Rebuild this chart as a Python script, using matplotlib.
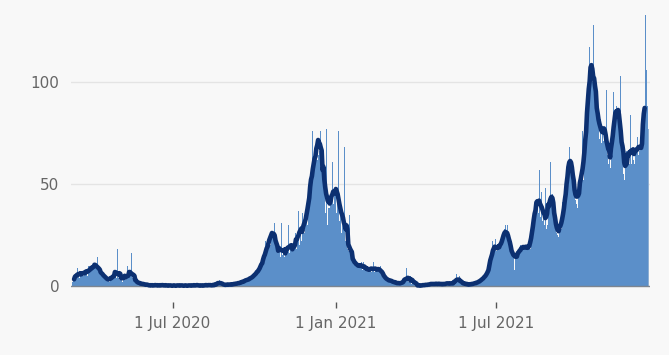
import numpy as np
import pandas as pd
import matplotlib
matplotlib.use("Agg")
import matplotlib.pyplot as plt

START_DATE = "2020-03-09"

# daily counts, one row per week (Mon..Sun)
daily_values = [
    0, 2, 3, 3, 5, 6, 4,
    9, 5, 4, 7, 6, 5, 8,
    5, 7, 6, 8, 5, 10, 7,
    8, 7, 9, 10, 11, 9, 10,
    10, 14, 8, 7, 8, 6, 7,
    6, 5, 5, 4, 4, 3, 4,
    3, 2, 3, 4, 5, 6, 4,
    6, 5, 4, 18, 4, 3, 3,
    3, 9, 2, 3, 4, 3, 4,
    10, 4, 5, 4, 5, 16, 4,
    5, 3, 3, 2, 2, 1, 2,
    1, 1, 2, 1, 0, 1, 1,
    1, 0, 1, 0, 1, 0, 0,
    0, 1, 0, 1, 0, 0, 1,
    0, 0, 1, 0, 0, 1, 0,
    1, 0, 0, 0, 1, 0, 0,
    0, 1, 0, 0, 0, 0, 1,
    0, 0, 0, 1, 0, 0, 0,
    1, 0, 0, 0, 0, 1, 0,
    0, 0, 1, 0, 0, 0, 1,
    0, 1, 0, 0, 1, 0, 0,
    0, 0, 1, 0, 0, 1, 0,
    1, 0, 0, 1, 0, 1, 0,
    0, 1, 1, 0, 2, 1, 3,
    2, 1, 1, 0, 1, 0, 1,
    1, 0, 1, 1, 0, 1, 1,
    1, 1, 0, 2, 1, 1, 2,
    1, 2, 1, 2, 2, 3, 2,
    3, 2, 3, 4, 3, 4, 3,
    4, 5, 4, 6, 5, 7, 6,
    7, 8, 9, 8, 10, 12, 13,
    14, 12, 22, 18, 17, 22, 24,
    20, 23, 34, 26, 24, 31, 22,
    19, 18, 16, 17, 15, 14, 31,
    15, 16, 14, 17, 15, 17, 18,
    30, 16, 19, 18, 18, 20, 19,
    16, 26, 18, 24, 37, 20, 28,
    22, 36, 24, 30, 26, 36, 38,
    30, 46, 40, 48, 44, 56, 76,
    55, 58, 64, 66, 62, 64, 103,
    66, 76, 56, 60, 50, 54, 36,
    77, 32, 30, 38, 38, 40, 44,
    61, 40, 47, 44, 48, 36, 42,
    76, 32, 37, 26, 32, 22, 28,
    68, 22, 20, 18, 17, 35, 15,
    16, 14, 13, 12, 12, 11, 10,
    10, 11, 9, 10, 9, 12, 8,
    12, 8, 10, 8, 9, 7, 8,
    8, 9, 7, 8, 12, 8, 7,
    8, 9, 8, 7, 9, 10, 7,
    7, 6, 5, 4, 4, 3, 3,
    3, 3, 3, 2, 2, 3, 2,
    2, 1, 2, 1, 2, 1, 1,
    2, 1, 1, 2, 3, 2, 3,
    9, 3, 2, 4, 5, 1, 2,
    2, 6, 1, 0, 1, 0, 0,
    0, 0, 1, 0, 0, 1, 0,
    1, 0, 1, 1, 0, 1, 1,
    1, 1, 2, 1, 0, 1, 1,
    1, 2, 1, 1, 1, 0, 1,
    1, 1, 2, 1, 1, 1, 2,
    1, 1, 1, 2, 1, 1, 2,
    6, 2, 4, 5, 2, 1, 2,
    1, 1, 2, 1, 1, 1, 0,
    1, 1, 0, 1, 2, 1, 1,
    1, 2, 1, 2, 2, 3, 2,
    3, 3, 4, 4, 5, 5, 6,
    6, 7, 9, 10, 12, 22, 22,
    16, 17, 23, 17, 18, 20, 19,
    17, 22, 20, 25, 22, 28, 30,
    27, 30, 24, 22, 21, 19, 18,
    17, 16, 8, 15, 14, 16, 15,
    16, 17, 20, 18, 19, 18, 22,
    18, 19, 18, 20, 18, 20, 18,
    20, 24, 30, 34, 38, 40, 42,
    40, 36, 57, 38, 34, 46, 32,
    33, 30, 48, 28, 30, 32, 36,
    44, 61, 42, 45, 40, 38, 32,
    28, 26, 25, 24, 27, 30, 28,
    41, 32, 34, 38, 44, 50, 55,
    62, 68, 58, 71, 60, 55, 50,
    45, 42, 40, 38, 44, 48, 50,
    48, 50, 76, 52, 60, 66, 74,
    80, 92, 105, 117, 100, 108, 100,
    128, 100, 92, 90, 95, 82, 80,
    72, 82, 70, 76, 84, 71, 74,
    70, 96, 64, 60, 62, 58, 60,
    65, 72, 95, 80, 85, 88, 84,
    90, 78, 76, 103, 70, 60, 55,
    52, 64, 55, 66, 60, 64, 60,
    84, 60, 66, 62, 69, 60, 68,
    68, 73, 64, 66, 70, 68, 68,
    68, 70, 78, 133, 106, 88, 77,
]

x_tick_dates = ["2020-07-01", "2021-01-01", "2021-07-01"]
x_tick_labels = ["1 Jul 2020", "1 Jan 2021", "1 Jul 2021"]
y_ticks = [0, 50, 100]

BAR_COLOR = "#5b8fc9"
LAST_BAR_COLOR = "#8eafd3"
LINE_COLOR = "#0c3071"
TEXT_COLOR = "#666666"
BG_COLOR = "#f8f8f8"


# ── Data ──────────────────────────────────────────────────────────────────
dates = pd.date_range(START_DATE, periods=len(daily_values), freq="D")
daily = pd.Series(daily_values, index=dates, dtype=float)

# 7-day centred rolling average, last few days left out (incomplete)
rolling = daily.rolling(7, center=True).mean()
rolling.iloc[-4:] = np.nan


# ── Plot ──────────────────────────────────────────────────────────────────
fig = plt.figure(figsize=(6.69, 3.55), dpi=100, facecolor=BG_COLOR)
ax = fig.add_axes([0.1061, 0.1493, 0.8655, 0.8225], facecolor=BG_COLOR)

colors = [BAR_COLOR] * (len(daily) - 1) + [LAST_BAR_COLOR]
ax.bar(daily.index, daily.values, width=1.0, color=colors, linewidth=0, zorder=2)
ax.plot(rolling.index, rolling.values, color=LINE_COLOR, linewidth=3.3,
        solid_capstyle="round", zorder=4)

for y in y_ticks[1:]:
    ax.axhline(y, color="#e4e4e4", linewidth=1, zorder=0)
ax.axhline(0, color="#7d8590", linewidth=1, zorder=3)

ax.set_xlim(dates[0] - pd.Timedelta(days=0.5), dates[-1] + pd.Timedelta(days=2))
ax.set_ylim(-7.84, 135.3)

ax.set_xticks(pd.to_datetime(x_tick_dates))
ax.set_xticklabels(x_tick_labels)
ax.set_yticks(y_ticks)
ax.set_yticklabels([str(v) for v in y_ticks])

ax.tick_params(axis="x", length=4.3, width=1, color="#555555", pad=6,
               labelsize=11, labelcolor=TEXT_COLOR)
ax.tick_params(axis="y", length=0, pad=8.5, labelsize=11, labelcolor=TEXT_COLOR)
for side in ["top", "right", "left", "bottom"]:
    ax.spines[side].set_visible(False)

plt.savefig("out.png", dpi=100, facecolor=BG_COLOR)
